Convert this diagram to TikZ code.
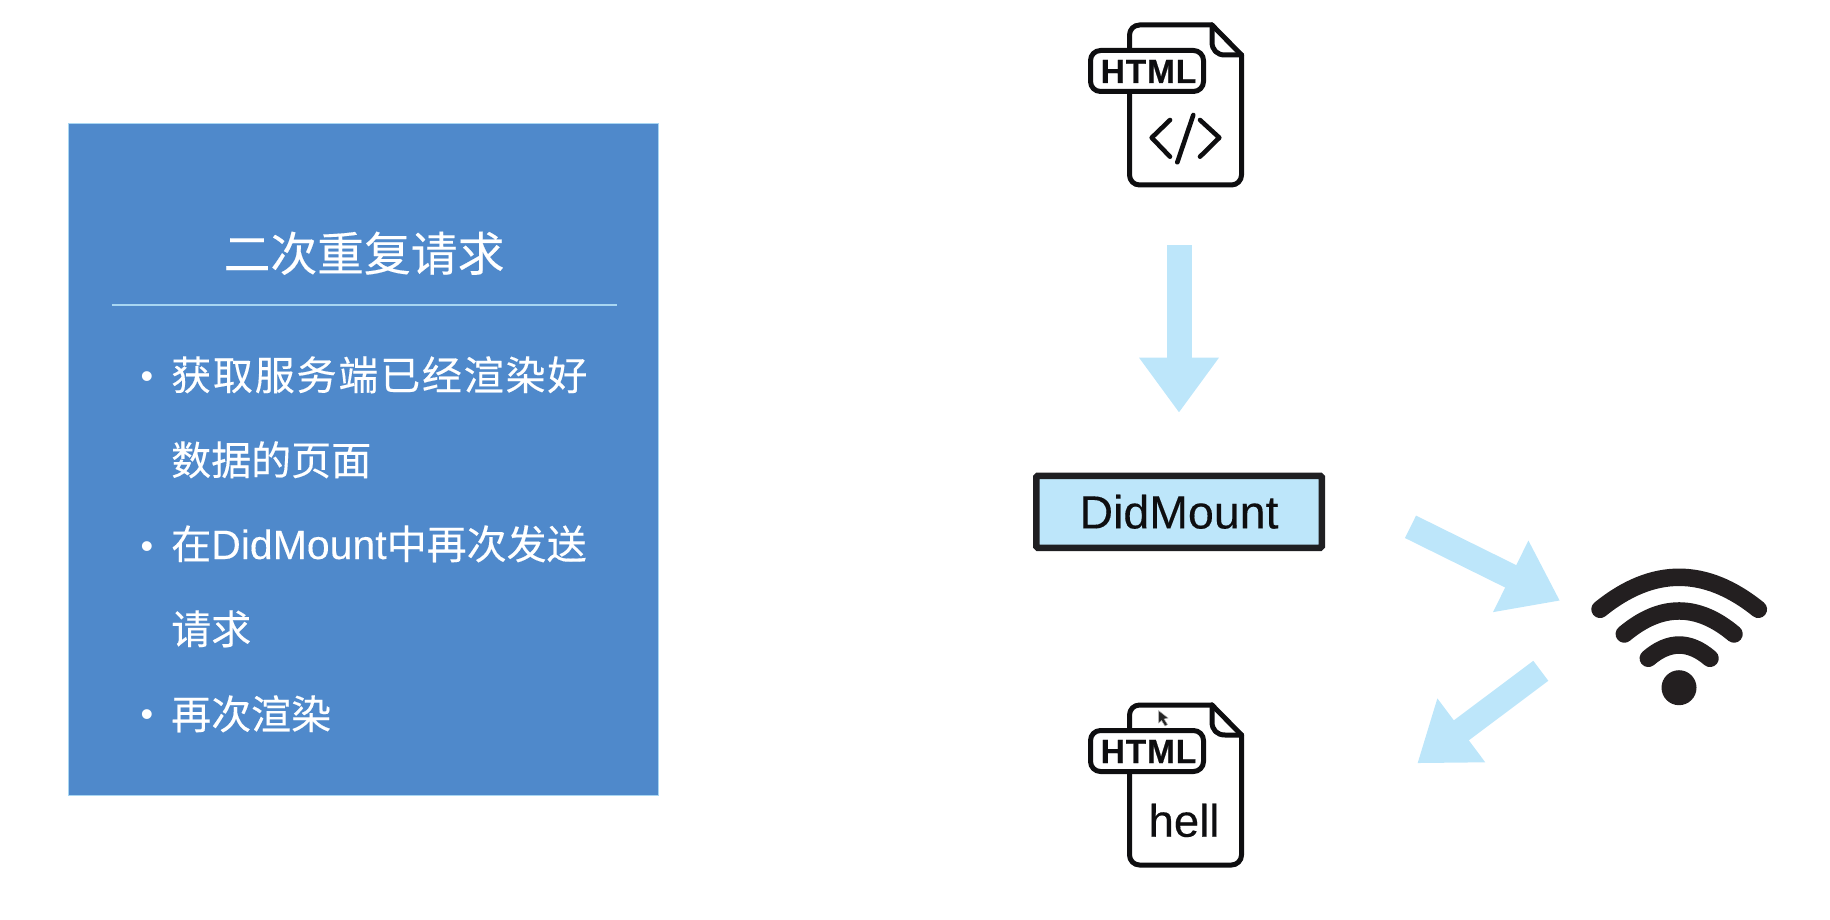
\documentclass[tikz,border=0pt]{standalone}
\usepackage{fontspec}
\usetikzlibrary{arrows.meta}
\setmainfont{Liberation Sans}
\newfontfamily\cjkfont[FakeBold=0.25]{Noto Sans CJK SC}
\newfontfamily\latinbody[FakeBold=0.2]{Liberation Sans}
\newfontfamily\heavylabel[FakeBold=0.6,LetterSpace=2.5]{Liberation Sans Bold}
\newfontfamily\boxfont[FakeBold=0.25]{Liberation Sans}
\definecolor{panelblue}{HTML}{4F89CB}
\definecolor{paleedge}{HTML}{A8D6F2}
\definecolor{paleblue}{HTML}{BDE6FA}
\definecolor{inkblack}{HTML}{0E0E10}
\definecolor{boxdark}{HTML}{1F1F22}
\definecolor{wifiblack}{HTML}{231F20}
\newcommand{\fsz}[1]{\fontsize{#1}{#1}\selectfont}
\newcommand{\docicon}[2]{%
  \begin{scope}[shift={(0,#1)}]
    \draw[iconline,rounded corners=10pt] (1212,25) -- (1129.5,25) -- (1129.5,185) -- (1241.5,185) -- (1241.5,55);
    \draw[iconline] (1241.5,55) -- (1212,25);
    \draw[iconline] (1212,25) -- (1212,42) .. controls (1212,50) and (1217,55) .. (1225,55) -- (1241.5,55);
    \draw[iconline,fill=white,rounded corners=10pt] (1090.5,50.5) rectangle (1203.5,91.5);
    \node[htmltext] (#2) at (1148.5,83) {HTML};
  \end{scope}}
\tikzset{
  iconline/.style={draw=inkblack,line width=5pt,line cap=round,line join=round},
  codeline/.style={draw=inkblack,line width=4.6pt,line cap=round,line join=round},
  htmltext/.style={anchor=base,inner sep=0pt,text=inkblack,font=\heavylabel\fsz{33.5}},
  bodytext/.style={anchor=base west,inner sep=0pt,text=white,font=\cjkfont\fsz{40}},
  bulletdot/.style={anchor=base,inner sep=0pt,text=white,font=\fsz{36}},
  blockarrow/.style={draw=paleblue,line width=25pt,-{Triangle[length=55pt,width=76pt]}},
  wifiarc/.style={draw=wifiblack,line width=17.5pt,line cap=round},
}
\begin{document}
\begin{tikzpicture}[x=1pt,y=-1pt]
\useasboundingbox (0,0) rectangle (1830,920);
% panel
\node[draw=paleedge,line width=0.6pt,fill=panelblue,inner sep=0pt,minimum width=590pt,minimum height=672pt] (panel) at (363.5,459.5) {};
\node[anchor=base,inner sep=0pt,text=white,font=\cjkfont\fsz{46.8}] (title) at (364,271) {二次重复请求};
\coordinate (ruleL) at (111.5,305);
\coordinate (ruleR) at (616.5,305);
\draw[paleedge,line width=1.2pt] (ruleL) -- (ruleR);
\node[bulletdot] (b1) at (147,388) {•};
\node[bodytext] (l1) at (171,390) {\addfontfeature{LetterSpace=4.5}获取服务端已经渲染好};
\node[bodytext] (l2) at (171,475) {数据的页面};
\node[bulletdot] (b2) at (147,558) {•};
\node[bodytext] (l3) at (171,559) {在{\latinbody\fsz{41}DidMount}中再次发送};
\node[bodytext] (l4) at (171,644) {请求};
\node[bulletdot] (b3) at (147,726) {•};
\node[bodytext] (l5) at (171,729) {再次渲染};
% top document
\docicon{0}{htmlA}
\draw[codeline] (1170,120) -- (1151.7,137.7) -- (1170,156.7);
\draw[codeline] (1193.3,115) -- (1177.3,162.3);
\draw[codeline] (1200,120) -- (1219.3,137.7) -- (1200,156.7);
% bottom document
\docicon{680}{htmlB}
\node[anchor=base,inner sep=0pt,text=inkblack,font=\boxfont\fsz{45.5}] (hell) at (1184,836.7) {hell};
\fill[black!85,draw=white!70!black,line width=0.5pt] (1158.5,710.5) -- (1158.5,723) -- (1161.5,720.5) -- (1165,726) -- (1167.5,724.5) -- (1164,719) -- (1168,718) -- cycle;
% DidMount box
\node[draw=boxdark,line width=6.5pt,rounded corners=1.5pt,fill=paleblue,inner sep=0pt,minimum width=285.5pt,minimum height=72pt,text=inkblack,font=\boxfont\fsz{46.5}] (mount) at (1179,511.8) {DidMount};
% arrows
\coordinate (a1s) at (1179,245.3);
\coordinate (a1e) at (1179,412.7);
\draw[blockarrow] (a1s) -- (a1e);
\coordinate (a2s) at (1410.5,526.8);
\coordinate (a2e) at (1560,600.7);
\draw[blockarrow] (a2s) -- (a2e);
\coordinate (a3s) at (1540.8,670.8);
\coordinate (a3e) at (1417.3,763.3);
\draw[blockarrow] (a3s) -- (a3e);
% wifi
\draw[wifiarc] (1600,609.3) .. controls (1652.7,566.6) and (1705.3,566.6) .. (1758.3,609.3);
\draw[wifiarc] (1624.3,634) .. controls (1660.9,603.3) and (1697.4,603.3) .. (1734,634);
\draw[wifiarc] (1648.3,658.3) .. controls (1668.9,640.6) and (1689.4,640.6) .. (1710,658.3);
\node[circle,fill=wifiblack,inner sep=0pt,minimum size=35pt] (wifidot) at (1679,687.7) {};
\end{tikzpicture}
\end{document}
